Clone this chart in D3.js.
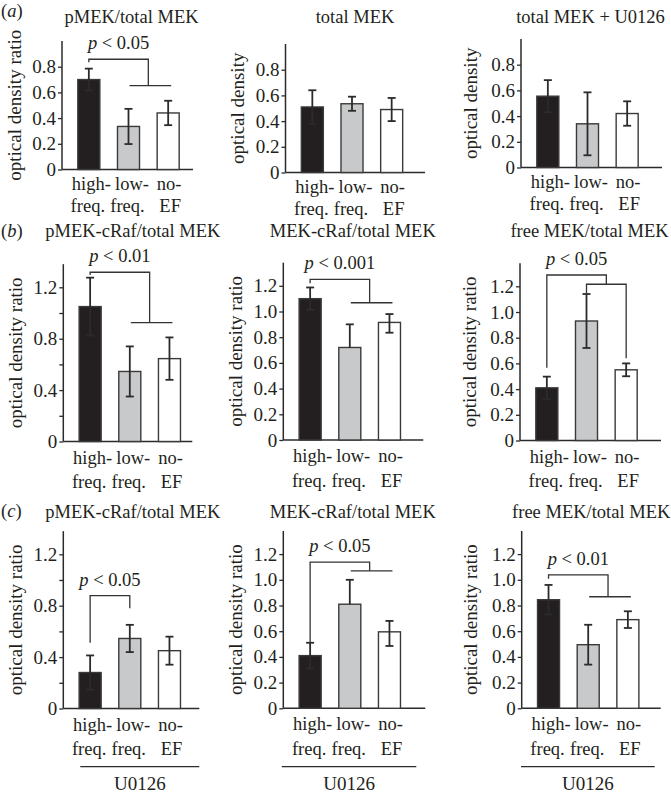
<!DOCTYPE html>
<html><head><meta charset="utf-8">
<script src="https://cdn.jsdelivr.net/npm/d3@7"></script>
<style>
html,body{margin:0;padding:0;background:#fff;}
svg{display:block;}
</style></head><body>
<svg id="chart" width="671" height="795"></svg>
<script>
// ---------------- DATA ----------------
const categories = ["high-freq.", "low-freq.", "no-EF"];
const catLine1 = ["high-", "low-", "no-"];
const catLine2 = ["freq.", "freq.", "EF"];
const panelLetters = ["a", "b", "c"];
const titles = ["pMEK/total MEK", "total MEK", "total MEK + U0126",
  "pMEK-cRaf/total MEK", "MEK-cRaf/total MEK", "free MEK/total MEK",
  "pMEK-cRaf/total MEK", "MEK-cRaf/total MEK", "free MEK/total MEK"];
const yLabels = ["optical density ratio", "optical density", "optical density",
  "optical density ratio", "optical density ratio", "optical density ratio",
  "optical density ratio", "optical density ratio", "optical density ratio"];
const yMax = [1.0, 1.0, 1.0, 1.38, 1.38, 1.38, 1.38, 1.38, 1.38];
const tickValuesA = [0, 0.2, 0.4, 0.6, 0.8];
const tickValuesBC = [0, 0.2, 0.4, 0.6, 0.8, 1.0, 1.2];
const sparseLabelPanels = [3, 6];          // labels only every 0.4
const means = [
  [0.70, 0.335, 0.44],
  [0.51, 0.535, 0.49],
  [0.555, 0.34, 0.42],
  [1.05, 0.545, 0.645],
  [1.10, 0.72, 0.915],
  [0.41, 0.93, 0.55],
  [0.28, 0.545, 0.45],
  [0.41, 0.81, 0.595],
  [0.845, 0.495, 0.69]
];
const errUp = [
  [0.085, 0.137, 0.095],
  [0.13, 0.055, 0.09],
  [0.125, 0.245, 0.095],
  [0.225, 0.195, 0.165],
  [0.087, 0.18, 0.065],
  [0.087, 0.21, 0.05],
  [0.133, 0.106, 0.109],
  [0.10, 0.19, 0.085],
  [0.115, 0.155, 0.065]
];
const errDown = [
  [0.085, 0.137, 0.095],
  [0.13, 0.055, 0.09],
  [0.125, 0.245, 0.095],
  [0.225, 0.195, 0.165],
  [0.087, 0, 0.08],
  [0.087, 0.21, 0.05],
  [0.133, 0.106, 0.109],
  [0.10, 0, 0.11],
  [0.115, 0.155, 0.065]
];
const pLabels = ["0.05", "0.01", "0.001", "0.05", "0.05", "0.05", "0.01"];
const brackets = [
  {panel: 0, left: 0, leftDrop: 0.834, top: 0.858, group: [1, 2], groupLevel: 0.652},
  {panel: 3, left: 0, leftDrop: 1.296, top: 1.317, group: [1, 2], groupLevel: 0.925},
  {panel: 4, left: 0, leftDrop: 1.22, top: 1.25, group: [1, 2], groupLevel: 1.068},
  {panel: 5, left: 0, leftDrop: 0.567, top: 1.288, group: [1, 2], groupLevel: 1.216, groupDrops: [1.132, 0.64]},
  {panel: 6, left: 0, leftDrop: 0.512, top: 0.878, right: 1, rightDrop: 0.78},
  {panel: 7, left: 0, leftDrop: 0.512, top: 1.138, group: [1, 2], groupLevel: 1.07},
  {panel: 8, left: 0, leftDrop: 1.008, top: 1.039, group: [1, 2], groupLevel: 0.868}
];
const treatmentPanels = [6, 7, 8];
const treatmentLabel = "U0126";

// ---------------- LAYOUT ----------------
const FONT = '"Liberation Serif", "Times New Roman", Times, serif';
const unitPx = 128.5;
const axisX = [62, 285.5, 521, 63.3, 283.3, 520, 63.3, 283.3, 521.7];
const zeroY = [169.5, 172.5, 167.5, 441.5, 440, 440.5, 708.5, 708.3, 708.3];
const xAxisLen = [131, 139.5, 141, 129, 140, 141, 136, 142, 139];
const titleBaseline = [22.5, 237, 518];
const letterBaseline = [17, 237, 517];
const xLab1Off = [20, 22, 22];
const xLab2Off = [42, 46.5, 46.5];
const xLab1Shift = [2.5, 3.5, 1];
const xLab2Shift = [-1, -1, 2];
const treatLine = [[17, 136], [-1.5, 133], [-0.7, 133]];
const treatLineY = 766.7, treatTextY = 790;
const FS = 18.5, FSY = 19, FSX = 18.5;
const colors = ["#231f20", "#c8c9cb", "#ffffff"];
const ink = "#2b2b2b";
const textInk = "#231f20";

const svg = d3.select("#chart").style("font-family", FONT);
const xScales = [], yScales = [];

function addText(sel, size) {
  return sel.append("text").style("font-family", FONT).style("font-size", size + "px").style("fill", textInk);
}

for (let p = 0; p < 9; p++) {
  const row = Math.floor(p / 3), col = p % 3;
  const y = d3.scaleLinear().domain([0, yMax[p]]).range([zeroY[p], zeroY[p] - yMax[p] * unitPx]);
  const x = d3.scaleBand().domain(categories)
    .range([axisX[p] + 7, axisX[p] + 126]).paddingInner(0.445).paddingOuter(0.2225);
  xScales.push(x); yScales.push(y);
  const g = svg.append("g");

  // y axis
  const ticks = row === 0 ? tickValuesA : tickValuesBC;
  const sparse = sparseLabelPanels.includes(p);
  const axis = d3.axisLeft(y).tickValues(ticks).tickSize(4).tickPadding(2)
    .tickFormat(d => (sparse && Math.round(d * 10) % 4 !== 0) ? "" : (d === 0 ? "0" : d.toFixed(1)));
  const ag = g.append("g").attr("transform", `translate(${axisX[p]},0)`).call(axis);
  ag.attr("font-family", null).attr("font-size", null);
  ag.select(".domain").remove();
  ag.selectAll(".tick line").attr("stroke", ink).attr("stroke-width", 1.3);
  ag.selectAll(".tick text").style("font-family", FONT).style("font-size", FSY + "px").style("fill", textInk);
  g.append("line").attr("x1", axisX[p]).attr("x2", axisX[p])
    .attr("y1", y(0)).attr("y2", y(yMax[p])).attr("stroke", ink).attr("stroke-width", 1.5);
  g.append("line").attr("x1", axisX[p]).attr("x2", axisX[p] + xAxisLen[p])
    .attr("y1", y(0)).attr("y2", y(0)).attr("stroke", ink).attr("stroke-width", 1.5);

  // y label
  const ylx = axisX[p] - (col === 2 ? 50 : 47);
  const yly = (y(0) + y(yMax[p])) / 2;
  addText(g, FSY).attr("transform", `translate(${ylx},${yly}) rotate(-90)`)
    .attr("text-anchor", "middle").attr("dy", "0.3em").text(yLabels[p]);

  // title
  addText(g, FS).attr("x", axisX[p] + 69.5).attr("y", titleBaseline[row])
    .attr("text-anchor", "middle").text(titles[p]);

  // bars
  g.selectAll("rect.bar").data(categories).enter().append("rect")
    .attr("x", c => x(c)).attr("width", x.bandwidth())
    .attr("y", (c, i) => y(means[p][i]))
    .attr("height", (c, i) => y(0) - y(means[p][i]))
    .attr("fill", (c, i) => colors[i]).attr("stroke", "#3a3a3a").attr("stroke-width", 1.4);

  // error bars + category labels
  categories.forEach((c, i) => {
    const cx = x(c) + x.bandwidth() / 2;
    const hi = y(means[p][i] + errUp[p][i]);
    const lo = y(means[p][i] - errDown[p][i]);
    g.append("line").attr("x1", cx).attr("x2", cx).attr("y1", hi).attr("y2", lo)
      .attr("stroke", ink).attr("stroke-width", 1.8);
    g.append("line").attr("x1", cx - 4).attr("x2", cx + 4).attr("y1", hi).attr("y2", hi)
      .attr("stroke", ink).attr("stroke-width", 1.8);
    if (errDown[p][i] > 0) {
      g.append("line").attr("x1", cx - 4).attr("x2", cx + 4).attr("y1", lo).attr("y2", lo)
        .attr("stroke", ink).attr("stroke-width", 1.8);
    }
    addText(g, FSX).attr("x", cx + xLab1Shift[i]).attr("y", y(0) + xLab1Off[row])
      .attr("text-anchor", "middle").text(catLine1[i]);
    addText(g, FSX).attr("x", cx + xLab2Shift[i]).attr("y", y(0) + xLab2Off[row])
      .attr("text-anchor", "middle").text(catLine2[i]);
  });

  // treatment underline
  if (treatmentPanels.includes(p)) {
    const t = treatLine[col];
    g.append("line").attr("x1", axisX[p] + t[0]).attr("x2", axisX[p] + t[1])
      .attr("y1", treatLineY).attr("y2", treatLineY).attr("stroke", ink).attr("stroke-width", 1.2);
    addText(g, FSY).attr("x", axisX[p] + (t[0] + t[1]) / 2).attr("y", treatTextY)
      .attr("text-anchor", "middle").text(treatmentLabel);
  }
}

// panel letters
panelLetters.forEach((l, r) => {
  const t = addText(svg, FS).attr("x", 1).attr("y", letterBaseline[r]);
  t.append("tspan").text("(");
  t.append("tspan").style("font-style", "italic").text(l);
  t.append("tspan").text(")");
});

// significance brackets
brackets.forEach((b, k) => {
  const x = xScales[b.panel], y = yScales[b.panel];
  const cx = i => x(categories[i]) + x.bandwidth() / 2;
  const lx = cx(b.left);
  const path = d3.path();
  path.moveTo(lx, y(b.leftDrop));
  path.lineTo(lx, y(b.top));
  let rx;
  if (b.group) {
    rx = (cx(b.group[0]) + cx(b.group[1])) / 2;
    path.lineTo(rx, y(b.top));
    path.lineTo(rx, y(b.groupLevel));
    const gx0 = cx(b.group[0]), gx1 = cx(b.group[1]);
    if (b.groupDrops) {
      path.moveTo(gx0, y(b.groupDrops[0]));
      path.lineTo(gx0, y(b.groupLevel));
      path.lineTo(gx1, y(b.groupLevel));
      path.lineTo(gx1, y(b.groupDrops[1]));
    } else {
      path.moveTo(gx0 + 1, y(b.groupLevel));
      path.lineTo(gx1 + 3, y(b.groupLevel));
    }
  } else {
    rx = cx(b.right);
    path.lineTo(rx, y(b.top));
    path.lineTo(rx, y(b.rightDrop));
  }
  svg.append("path").attr("d", path.toString()).attr("fill", "none")
    .attr("stroke", "#333").attr("stroke-width", 1.3);
  const t = addText(svg, FS).attr("x", (lx + rx) / 2).attr("y", y(b.top) - 10)
    .attr("text-anchor", "middle");
  t.append("tspan").style("font-style", "italic").text("p");
  t.append("tspan").text(" < " + pLabels[k]);
});
</script>
</body></html>
